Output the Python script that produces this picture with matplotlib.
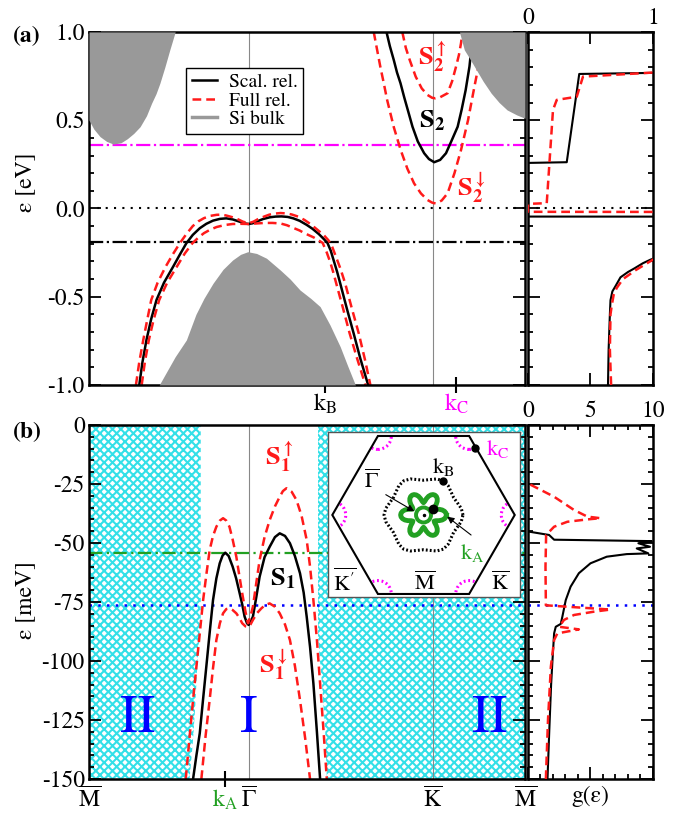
import numpy as np
import matplotlib.pyplot as plt
from matplotlib.lines import Line2D
from matplotlib.patches import Polygon, Circle
from matplotlib.ticker import MultipleLocator

plt.rcParams['font.family'] = ['STIXGeneral', 'DejaVu Serif']
plt.rcParams['mathtext.fontset'] = 'stix'
plt.rcParams['axes.unicode_minus'] = False
plt.rcParams['hatch.linewidth'] = 1.5

# k path (units of |Gamma-M|)
kpath = [0.0, 1.0, 2.155, 2.732]
kpath_lab = [r'$\overline{\mathrm{M}}$', r'$\overline{\Gamma}$',
             r'$\overline{\mathrm{K}}$', r'$\overline{\mathrm{M}}$']
kA, kB, kC = 0.85, 1.48, 2.30

# reference levels
lev_zero_a, lev_dd_a, lev_mag_a = 0.0, -0.19, 0.36
lev_green_b, lev_blue_b = -54.4, -76.3

# ---------------- panel (a) bands, eV
s1_k = [0.315, 0.335, 0.36, 0.39, 0.423, 0.47, 0.527, 0.57, 0.61, 0.65, 0.694, 0.735, 0.777, 0.82,
        0.86, 0.90, 0.944, 0.975, 1.0, 1.025, 1.048, 1.09, 1.133, 1.17, 1.206, 1.245, 1.28, 1.32,
        1.364, 1.40, 1.44, 1.47, 1.494, 1.515, 1.535, 1.555, 1.574, 1.615, 1.658, 1.70, 1.749]
s1_e = [-1.0, -0.87, -0.745, -0.625, -0.518, -0.42, -0.33, -0.26, -0.197, -0.15, -0.112, -0.087, -0.069, -0.059,
        -0.056, -0.062, -0.075, -0.085, -0.088, -0.084, -0.075, -0.06, -0.05, -0.046, -0.045, -0.048, -0.056, -0.07,
        -0.093, -0.115, -0.145, -0.172, -0.195, -0.24, -0.30, -0.36, -0.424, -0.565, -0.707, -0.85, -1.0]
s1up_k = [0.294, 0.315, 0.34, 0.365, 0.39, 0.43, 0.48, 0.525, 0.569, 0.61, 0.65, 0.685, 0.72, 0.76,
          0.80, 0.83, 0.86, 0.90, 0.93, 0.965, 1.0, 1.03, 1.06, 1.10, 1.13, 1.165, 1.20, 1.235, 1.27,
          1.31, 1.35, 1.39, 1.43, 1.47, 1.50, 1.525, 1.55, 1.575, 1.605, 1.645, 1.69, 1.73, 1.763]
s1up_e = [-1.0, -0.87, -0.745, -0.63, -0.518, -0.42, -0.33, -0.26, -0.197, -0.145, -0.10, -0.073, -0.055, -0.042,
          -0.036, -0.035, -0.04, -0.05, -0.06, -0.075, -0.084, -0.075, -0.06, -0.045, -0.035, -0.029, -0.026, -0.028, -0.034,
          -0.046, -0.065, -0.09, -0.12, -0.15, -0.18, -0.22, -0.28, -0.34, -0.424, -0.56, -0.707, -0.86, -1.0]
s1dn_k = [0.33, 0.35, 0.375, 0.405, 0.44, 0.49, 0.55, 0.60, 0.648, 0.685, 0.72, 0.76, 0.80, 0.85,
          0.90, 0.95, 1.0, 1.05, 1.10, 1.15, 1.2, 1.24, 1.28, 1.32, 1.35, 1.41, 1.464, 1.49, 1.51,
          1.53, 1.549, 1.59, 1.633, 1.68, 1.732]
s1dn_e = [-1.0, -0.87, -0.745, -0.63, -0.518, -0.42, -0.33, -0.255, -0.197, -0.165, -0.14, -0.12, -0.105, -0.094,
          -0.088, -0.087, -0.088, -0.085, -0.082, -0.082, -0.085, -0.095, -0.11, -0.125, -0.14, -0.165, -0.195, -0.25, -0.30,
          -0.36, -0.424, -0.56, -0.707, -0.85, -1.0]

s2_k = [1.864, 1.885, 1.91, 1.93, 1.952, 1.975, 2.0, 2.027, 2.06, 2.10, 2.13, 2.163, 2.20, 2.237,
        2.27, 2.31, 2.335, 2.36, 2.384, 2.395, 2.405]
s2_e = [1.0, 0.92, 0.84, 0.77, 0.709, 0.63, 0.55, 0.463, 0.38, 0.313, 0.28, 0.262, 0.275, 0.313,
        0.38, 0.463, 0.56, 0.67, 0.804, 0.9, 1.0]
s2up_k = [1.963, 1.985, 2.01, 2.047, 2.085, 2.121, 2.15, 2.17, 2.20, 2.247, 2.275, 2.30, 2.318, 2.331, 2.34]
s2up_e = [1.0, 0.91, 0.84, 0.747, 0.68, 0.643, 0.627, 0.624, 0.63, 0.653, 0.72, 0.804, 0.87, 0.936, 1.0]
s2dn_k = [1.784, 1.805, 1.826, 1.847, 1.868, 1.91, 1.953, 1.995, 2.037, 2.08, 2.121, 2.15, 2.173,
          2.21, 2.247, 2.29, 2.331, 2.375, 2.415, 2.45, 2.48]
s2dn_e = [1.0, 0.9, 0.8, 0.71, 0.615, 0.46, 0.331, 0.225, 0.142, 0.085, 0.048, 0.033, 0.028,
          0.045, 0.086, 0.2, 0.331, 0.5, 0.69, 0.85, 1.0]

# Si bulk projections
bulk_vb_k = [0.44, 0.49, 0.54, 0.61, 0.67, 0.72, 0.777, 0.84, 0.90, 0.95, 0.995, 1.05, 1.112, 1.20,
             1.26, 1.322, 1.39, 1.448, 1.51, 1.574, 1.62, 1.669]
bulk_vb_e = [-1.0, -0.92, -0.84, -0.745, -0.60, -0.51, -0.424, -0.345, -0.292, -0.26, -0.245, -0.255, -0.282, -0.35,
             -0.40, -0.462, -0.51, -0.556, -0.66, -0.783, -0.89, -1.0]
bulk_cb1_k = [0.0, 0.03, 0.069, 0.11, 0.152, 0.20, 0.24, 0.28, 0.32, 0.36, 0.392, 0.42, 0.444, 0.475, 0.506, 0.54]
bulk_cb1_e = [0.50, 0.45, 0.407, 0.38, 0.365, 0.372, 0.395, 0.425, 0.463, 0.525, 0.596, 0.65, 0.709, 0.80, 0.898, 1.0]
bulk_cb2_k = [2.321, 2.352, 2.385, 2.415, 2.47, 2.52, 2.57, 2.62, 2.68, 2.732]
bulk_cb2_e = [1.0, 0.898, 0.85, 0.804, 0.72, 0.653, 0.60, 0.558, 0.53, 0.511]

# panel (a) DOS
dosa_blk_g = [0.64, 0.645, 0.655, 0.66, 0.675, 0.70, 0.74, 0.80, 0.85, 0.92, 0.98, 1.1, 3.0, 0.0, 0.0,
              0.31, 0.41, 1.0, 1.2]
dosa_blk_e = [-1.0, -0.8, -0.6, -0.52, -0.47, -0.44, -0.39, -0.36, -0.34, -0.31, -0.29, -0.26, -0.047, -0.046, 0.258,
              0.262, 0.762, 0.768, 0.77]
dosa_red_g = [0.665, 0.655, 0.66, 0.67, 0.685, 0.71, 0.76, 0.82, 0.86, 0.93, 1.0, 1.1, 3.0, 0.0, 0.0,
              0.15, 0.20, 0.23, 0.39, 0.44, 1.0, 1.2]
dosa_red_e = [-1.0, -0.8, -0.6, -0.55, -0.49, -0.45, -0.40, -0.37, -0.35, -0.32, -0.29, -0.26, -0.021, -0.019, 0.026,
              0.03, 0.558, 0.615, 0.633, 0.747, 0.77, 0.77]

# ---------------- panel (b) bands, meV
b_s1_k = [0.652, 0.673, 0.694, 0.715, 0.735, 0.756, 0.777, 0.798, 0.819, 0.837, 0.854, 0.875, 0.90,
          0.922, 0.944, 0.96, 0.975, 0.99, 1.0, 1.012, 1.027, 1.048, 1.069, 1.10, 1.132, 1.165, 1.195,
          1.228, 1.259, 1.29, 1.322, 1.345, 1.364, 1.385, 1.406, 1.428, 1.448]
b_s1_e = [-150, -140, -130.6, -116, -102.4, -88, -74.2, -65, -58.6, -55.3, -54.1, -55.5, -60,
          -65, -71.3, -76, -81.2, -84, -84.7, -83.5, -81.2, -73, -64.3, -56, -51.6, -47.5, -45.9,
          -47, -50.1, -55.5, -62.8, -71, -81.2, -94, -109.5, -130, -150]
b_up_k = [0.606, 0.629, 0.652, 0.684, 0.715, 0.736, 0.756, 0.777, 0.798, 0.82, 0.84, 0.86, 0.88,
          0.90, 0.923, 0.94, 0.96, 0.98, 0.996, 1.012, 1.027, 1.048, 1.069, 1.10, 1.132, 1.165, 1.195,
          1.215, 1.237, 1.27, 1.30, 1.332, 1.364, 1.385, 1.406, 1.428, 1.448, 1.47, 1.49]
b_up_e = [-150, -133, -116.5, -95, -74.2, -63, -53, -47, -43.1, -40.5, -39.5, -40.5, -43.1,
          -48.5, -55.8, -63, -71.3, -79, -84, -81, -77, -67, -57.2, -47.5, -40.3, -34.5, -30.4,
          -28, -26.8, -28.3, -31.8, -38.5, -48.7, -60, -74.2, -91, -109.5, -130, -150]
b_dn_k = [0.704, 0.73, 0.756, 0.777, 0.798, 0.82, 0.84, 0.86, 0.88, 0.90, 0.923, 0.94, 0.96, 0.98,
          0.996, 1.012, 1.027, 1.053, 1.08, 1.105, 1.132, 1.165, 1.195, 1.228, 1.259, 1.29, 1.322,
          1.355, 1.385]
b_dn_e = [-150, -132, -116.5, -103, -91.1, -84, -79.8, -78, -77.7, -78.4, -79.8, -81.5, -84, -85.3,
          -85.5, -84.5, -82.6, -79.7, -77.7, -76.2, -75.6, -77, -79.8, -84.5, -91.1, -102, -116.5,
          -133, -150]

# hatched regions (II) boundaries
hatch_left_k = [0.70, 0.70, 0.68, 0.665, 0.65, 0.63]
hatch_left_e = [0, -82, -100, -120, -135, -150]
hatch_right_k = [1.435, 1.435, 1.46, 1.48, 1.49]
hatch_right_e = [0, -90, -110, -130, -150]

# panel (b) DOS
dosb_blk_g = [1.56, 1.7, 1.85, 1.96, 2.09, 2.22, 2.62, 2.75, 3.02, 3.41, 4.07, 5.0, 6.3, 7.9, 9.63,
              8.7, 9.76, 8.83, 9.9, 9.9, 2.09, 1.69, 0.1, 0.0]
dosb_blk_e = [-150, -130, -110, -99.6, -88.3, -85.5, -84.3, -81.2, -74.2, -68.5, -62.8, -58.6, -55.8,
              -54.7, -54.4, -52.3, -51.6, -50.1, -49.4, -49.2, -48.6, -46.6, -45.2, -45.0]
dosb_red_g = [1.43, 1.6, 1.83, 2.09, 2.35, 4.07, 2.49, 2.88, 3.68, 5.27, 6.59, 1.43, 1.40, 1.45,
              2.09, 3.15, 4.74, 5.8, 4.74, 3.68, 2.09, 0.24, 0.0]
dosb_red_e = [-150, -125, -102.4, -91.1, -88.3, -86.6, -85.5, -82.6, -80.5, -79.1, -78.2, -76.4, -60, -46.6,
              -43.1, -41, -40.0, -39.5, -38.8, -36, -30.4, -25.4, -25.0]

# ---------------- inset (constant energy contours), radii per 60 deg period
star_ang = [0, 5, 10, 15, 20, 25, 30, 35, 40, 45, 50, 55]
star_r = [0.29, 0.285, 0.27, 0.245, 0.21, 0.172, 0.155, 0.172, 0.21, 0.245, 0.27, 0.285]
cec_ang = [0, 10, 20, 30, 40, 50]
cec_r = [0.50, 0.485, 0.455, 0.44, 0.455, 0.485]
inner_r = 0.095
arc_r = 0.17
bz_R = 1.1547

red = '#ff1a1a'
grey = '#999999'
green = '#22a022'
mag = '#ff00ff'
cyan = '#33e0e8'

fig = plt.figure(figsize=(6.79, 8.17), dpi=100)
axa = fig.add_axes([0.1311, 0.5288, 0.6421, 0.4321])
axda = fig.add_axes([0.7776, 0.5288, 0.1841, 0.4321])
axb = fig.add_axes([0.1311, 0.0465, 0.6421, 0.4333])
axdb = fig.add_axes([0.7776, 0.0465, 0.1841, 0.4333])

dash = (0, (3.5, 2))

def frame(ax):
    for s in ax.spines.values():
        s.set_linewidth(1.8)
    ax.tick_params(which='both', direction='in', width=1.3, labelsize=17)
    ax.tick_params(which='major', length=8.5)
    ax.tick_params(which='minor', length=3.8)

# ---------------- panel (a)
ax = axa
ax.fill_between(bulk_vb_k, bulk_vb_e, -1.0, color=grey, lw=0, zorder=3)
ax.fill_between(bulk_cb1_k, bulk_cb1_e, 1.0, color=grey, lw=0, zorder=3)
ax.fill_between(bulk_cb2_k, bulk_cb2_e, 1.0, color=grey, lw=0, zorder=3)
for kk in kpath[1:3]:
    ax.axvline(kk, color='#888888', lw=0.8, zorder=1)
ax.axhline(lev_zero_a, color='k', lw=1.5, ls=(0, (1, 3)), zorder=1)
ax.axhline(lev_dd_a, color='k', lw=1.6, ls='-.', zorder=1)
ax.axhline(lev_mag_a, color=mag, lw=1.6, ls='-.', zorder=1)
ax.plot(s1_k, s1_e, color='k', lw=1.8, zorder=2)
ax.plot(s1up_k, s1up_e, color=red, lw=1.8, ls=dash, zorder=2)
ax.plot(s1dn_k, s1dn_e, color=red, lw=1.8, ls=dash, zorder=2)
ax.plot(s2_k, s2_e, color='k', lw=1.8, zorder=2)
ax.plot(s2up_k, s2up_e, color=red, lw=1.8, ls=dash, zorder=2)
ax.plot(s2dn_k, s2dn_e, color=red, lw=1.8, ls=dash, zorder=2)
ax.set_xlim(kpath[0], kpath[-1])
ax.set_ylim(-1, 1)
frame(ax)
ax.yaxis.set_major_locator(MultipleLocator(0.5))
ax.yaxis.set_minor_locator(MultipleLocator(0.1))
ax.tick_params(axis='y', which='both', right=True, pad=3)
ax.set_xticks([kB, kC], [r'$\mathrm{k_B}$', r'$\mathrm{k_C}$'])
ax.tick_params(axis='x', direction='inout', length=12, width=1.5, pad=-1)
for t, c in zip(ax.xaxis.get_major_ticks(), ['k', mag]):
    t.tick1line.set_color(c)
    t.label1.set_color(c)
handles = [Line2D([], [], color='k', lw=1.8), Line2D([], [], color=red, lw=1.8, ls=dash),
           Line2D([], [], color=grey, lw=2.5)]
leg = ax.legend(handles, ['Scal. rel.', 'Full rel.', 'Si bulk'], loc='upper left',
                bbox_to_anchor=(0.222, 0.899), borderaxespad=0, fontsize=14, handlelength=1.3,
                labelspacing=0.05, handletextpad=0.6, borderpad=0.3, fancybox=False,
                edgecolor='k', framealpha=1)
leg.get_frame().set_linewidth(1.0)
leg.set_zorder(6)
ax.text(0.787, 0.929, r'$\mathbf{S_2^{\uparrow}}$', color=red, fontsize=19, ha='center', va='center',
        transform=ax.transAxes, zorder=5)
ax.text(0.787, 0.748, r'$\mathbf{S_2}$', color='k', fontsize=19, ha='center', va='center',
        transform=ax.transAxes, zorder=5)
ax.text(0.878, 0.558, r'$\mathbf{S_2^{\downarrow}}$', color=red, fontsize=19, ha='center', va='center',
        transform=ax.transAxes, zorder=5)

# DOS (a)
ax = axda
ax.axhline(lev_zero_a, color='k', lw=1.5, ls=(0, (1, 3)), zorder=1)
ax.plot(dosa_blk_g, dosa_blk_e, color='k', lw=1.5, zorder=2)
ax.plot(dosa_red_g, dosa_red_e, color=red, lw=1.8, ls=dash, zorder=3)
ax.set_xlim(0, 1)
ax.set_ylim(-1, 1)
frame(ax)
ax.yaxis.set_major_locator(MultipleLocator(0.5))
ax.yaxis.set_minor_locator(MultipleLocator(0.1))
ax.set_xticks([0, 0.5, 1], ['0', '', '1'])
ax.tick_params(which='both', left=True, right=True, top=True, bottom=True,
               labelleft=False, labelbottom=False, labeltop=True)
ax.tick_params(axis='x', pad=2)

# ---------------- panel (b)
ax = axb
ax.fill_betweenx(hatch_left_e, 0, hatch_left_k, facecolor='white', edgecolor=cyan, hatch='xxxx',
                 lw=0, zorder=0.5)
ax.fill_betweenx(hatch_right_e, hatch_right_k, kpath[-1], facecolor='white', edgecolor=cyan,
                 hatch='xxxx', lw=0, zorder=0.5)
for kk in kpath[1:3]:
    ax.axvline(kk, color='#888888', lw=0.8, zorder=1)
ax.axhline(lev_green_b, color=green, lw=1.6, ls=(0, (6, 2, 1, 2)), zorder=1)
ax.axhline(lev_blue_b, color='#0000ff', lw=1.8, ls=(0, (1, 2.5)), zorder=1)
ax.plot(b_s1_k, b_s1_e, color='k', lw=1.8, zorder=2)
ax.plot(b_up_k, b_up_e, color=red, lw=1.8, ls=dash, zorder=2)
ax.plot(b_dn_k, b_dn_e, color=red, lw=1.8, ls=dash, zorder=2)
ax.set_xlim(kpath[0], kpath[-1])
ax.set_ylim(-150, 0)
frame(ax)
ax.yaxis.set_major_locator(MultipleLocator(25))
ax.yaxis.set_minor_locator(MultipleLocator(5))
ax.tick_params(axis='y', which='both', right=True, pad=3)
xt = [kpath[0], kA, kpath[1], kpath[2], kpath[3]]
xl = [kpath_lab[0], r'$\mathrm{k_A}$', kpath_lab[1], kpath_lab[2], kpath_lab[3]]
ax.set_xticks(xt, xl)
ax.tick_params(axis='x', direction='inout', length=12, width=1.5, pad=0)
for i, t in enumerate(ax.xaxis.get_major_ticks()):
    if i == 1:
        t.tick1line.set_color(green)
        t.label1.set_color(green)
    else:
        t.tick1line.set_visible(False)
ax.text(0.436, 0.910, r'$\mathbf{S_1^{\uparrow}}$', color=red, fontsize=19, ha='center', va='center',
        transform=ax.transAxes, zorder=5)
ax.text(0.445, 0.565, r'$\mathbf{S_1}$', color='k', fontsize=19, ha='center', va='center',
        transform=ax.transAxes, zorder=5)
ax.text(0.424, 0.322, r'$\mathbf{S_1^{\downarrow}}$', color=red, fontsize=19, ha='center', va='center',
        transform=ax.transAxes, zorder=5)
for xx, s in zip([0.112, 0.367, 0.92], ['II', 'I', 'II']):
    ax.text(xx, 0.167, s, color='#0000ff', fontsize=38, ha='center', va='center',
            transform=ax.transAxes, zorder=5)

# DOS (b)
ax = axdb
ax.axhline(lev_blue_b, color='#0000ff', lw=1.8, ls=(0, (1, 2.5)), zorder=1)
ax.plot(dosb_blk_g, dosb_blk_e, color='k', lw=1.5, zorder=2)
ax.plot(dosb_red_g, dosb_red_e, color=red, lw=1.8, ls=dash, zorder=3)
ax.set_xlim(0, 10)
ax.set_ylim(-150, 0)
frame(ax)
ax.yaxis.set_major_locator(MultipleLocator(25))
ax.yaxis.set_minor_locator(MultipleLocator(5))
ax.xaxis.set_major_locator(MultipleLocator(5))
ax.xaxis.set_minor_locator(MultipleLocator(1))
ax.tick_params(which='both', left=True, right=True, top=True, bottom=True,
               labelleft=False, labelbottom=False, labeltop=True)
ax.tick_params(axis='x', pad=2)
ax.set_xlabel('g(ε)', fontsize=17, labelpad=5)

# ---------------- inset Brillouin zone
axi = fig.add_axes([0.4831, 0.2693, 0.2828, 0.2020])
axi.set_xlim(-1.209, 1.222)
axi.set_ylim(-1.038, 1.051)
axi.set_xticks([])
axi.set_yticks([])
for s in axi.spines.values():
    s.set_linewidth(1.0)
    s.set_color('#555555')
corner_ang = np.deg2rad([0, 60, 120, 180, 240, 300])
corners = np.column_stack([bz_R * np.cos(corner_ang), bz_R * np.sin(corner_ang)])
hexa = Polygon(corners, closed=True, fill=False, ec='k', lw=1.5, zorder=3)
axi.add_patch(hexa)
for cx, cy in corners:
    arc = Circle((cx, cy), arc_r, fill=False, ec=mag, lw=2.2, ls=(0, (0.6, 0.9)), zorder=2)
    axi.add_patch(arc)
    arc.set_clip_path(hexa)
ang_star = np.deg2rad(np.concatenate([np.array(star_ang) + 60 * i for i in range(6)] + [[0]]))
r_star = np.array(star_r * 6 + star_r[:1])
axi.plot(r_star * np.cos(ang_star), r_star * np.sin(ang_star), color=green, lw=3.5, zorder=3)
ang_c = np.deg2rad(np.concatenate([np.array(cec_ang) + 60 * i for i in range(6)] + [[0]]))
r_c = np.array(cec_r * 6 + cec_r[:1])
axi.plot(r_c * np.cos(ang_c), r_c * np.sin(ang_c), color='k', lw=2.2, ls=(0, (0.6, 0.7)), zorder=3)
axi.add_patch(Circle((0, 0), inner_r, fill=False, ec=green, lw=2.8, zorder=3))
axi.plot([0], [0], 'o', color='k', ms=1.5, zorder=4)
axi.plot([0.124], [0.072], 'o', color='k', ms=6, zorder=5)
axi.plot([0.243, 0.652], [0.434, 0.852], 'o', color='k', ms=5, zorder=5)
axi.annotate('', xy=(-0.086, 0.029), xytext=(-0.508, 0.275),
             arrowprops=dict(arrowstyle='-|>', lw=0.8, color='k', mutation_scale=10), zorder=6)
axi.annotate('', xy=(0.272, 0.0), xytext=(0.630, -0.275),
             arrowprops=dict(arrowstyle='-|>', lw=0.8, color='k', mutation_scale=10), zorder=6)
axi.text(-0.652, 0.418, r'$\overline{\Gamma}$', fontsize=16, ha='center', va='center')
axi.text(0.247, 0.611, r'$\mathrm{k_B}$', fontsize=16, ha='center', va='center')
axi.text(0.943, 0.835, r'$\mathrm{k_C}$', fontsize=16, ha='center', va='center', color=mag)
axi.text(0.614, -0.481, r'$\mathrm{k_A}$', fontsize=16, ha='center', va='center', color=green)
axi.text(-0.994, -0.861, r"$\overline{\mathrm{K}'}$", fontsize=16, ha='center', va='center')
axi.text(0.019, -0.861, r'$\overline{\mathrm{M}}$', fontsize=16, ha='center', va='center')
axi.text(0.968, -0.861, r'$\overline{\mathrm{K}}$', fontsize=16, ha='center', va='center')

# labels
fig.text(0.019, 0.955, '(a)', fontsize=17, fontweight='bold', va='center')
fig.text(0.019, 0.470, '(b)', fontsize=17, fontweight='bold', va='center')
fig.text(0.037, 0.777, 'ε [eV]', fontsize=17, rotation=90, ha='center', va='center')
fig.text(0.037, 0.2656, 'ε [meV]', fontsize=17, rotation=90, ha='center', va='center')

fig.savefig('out.png', dpi=100)
